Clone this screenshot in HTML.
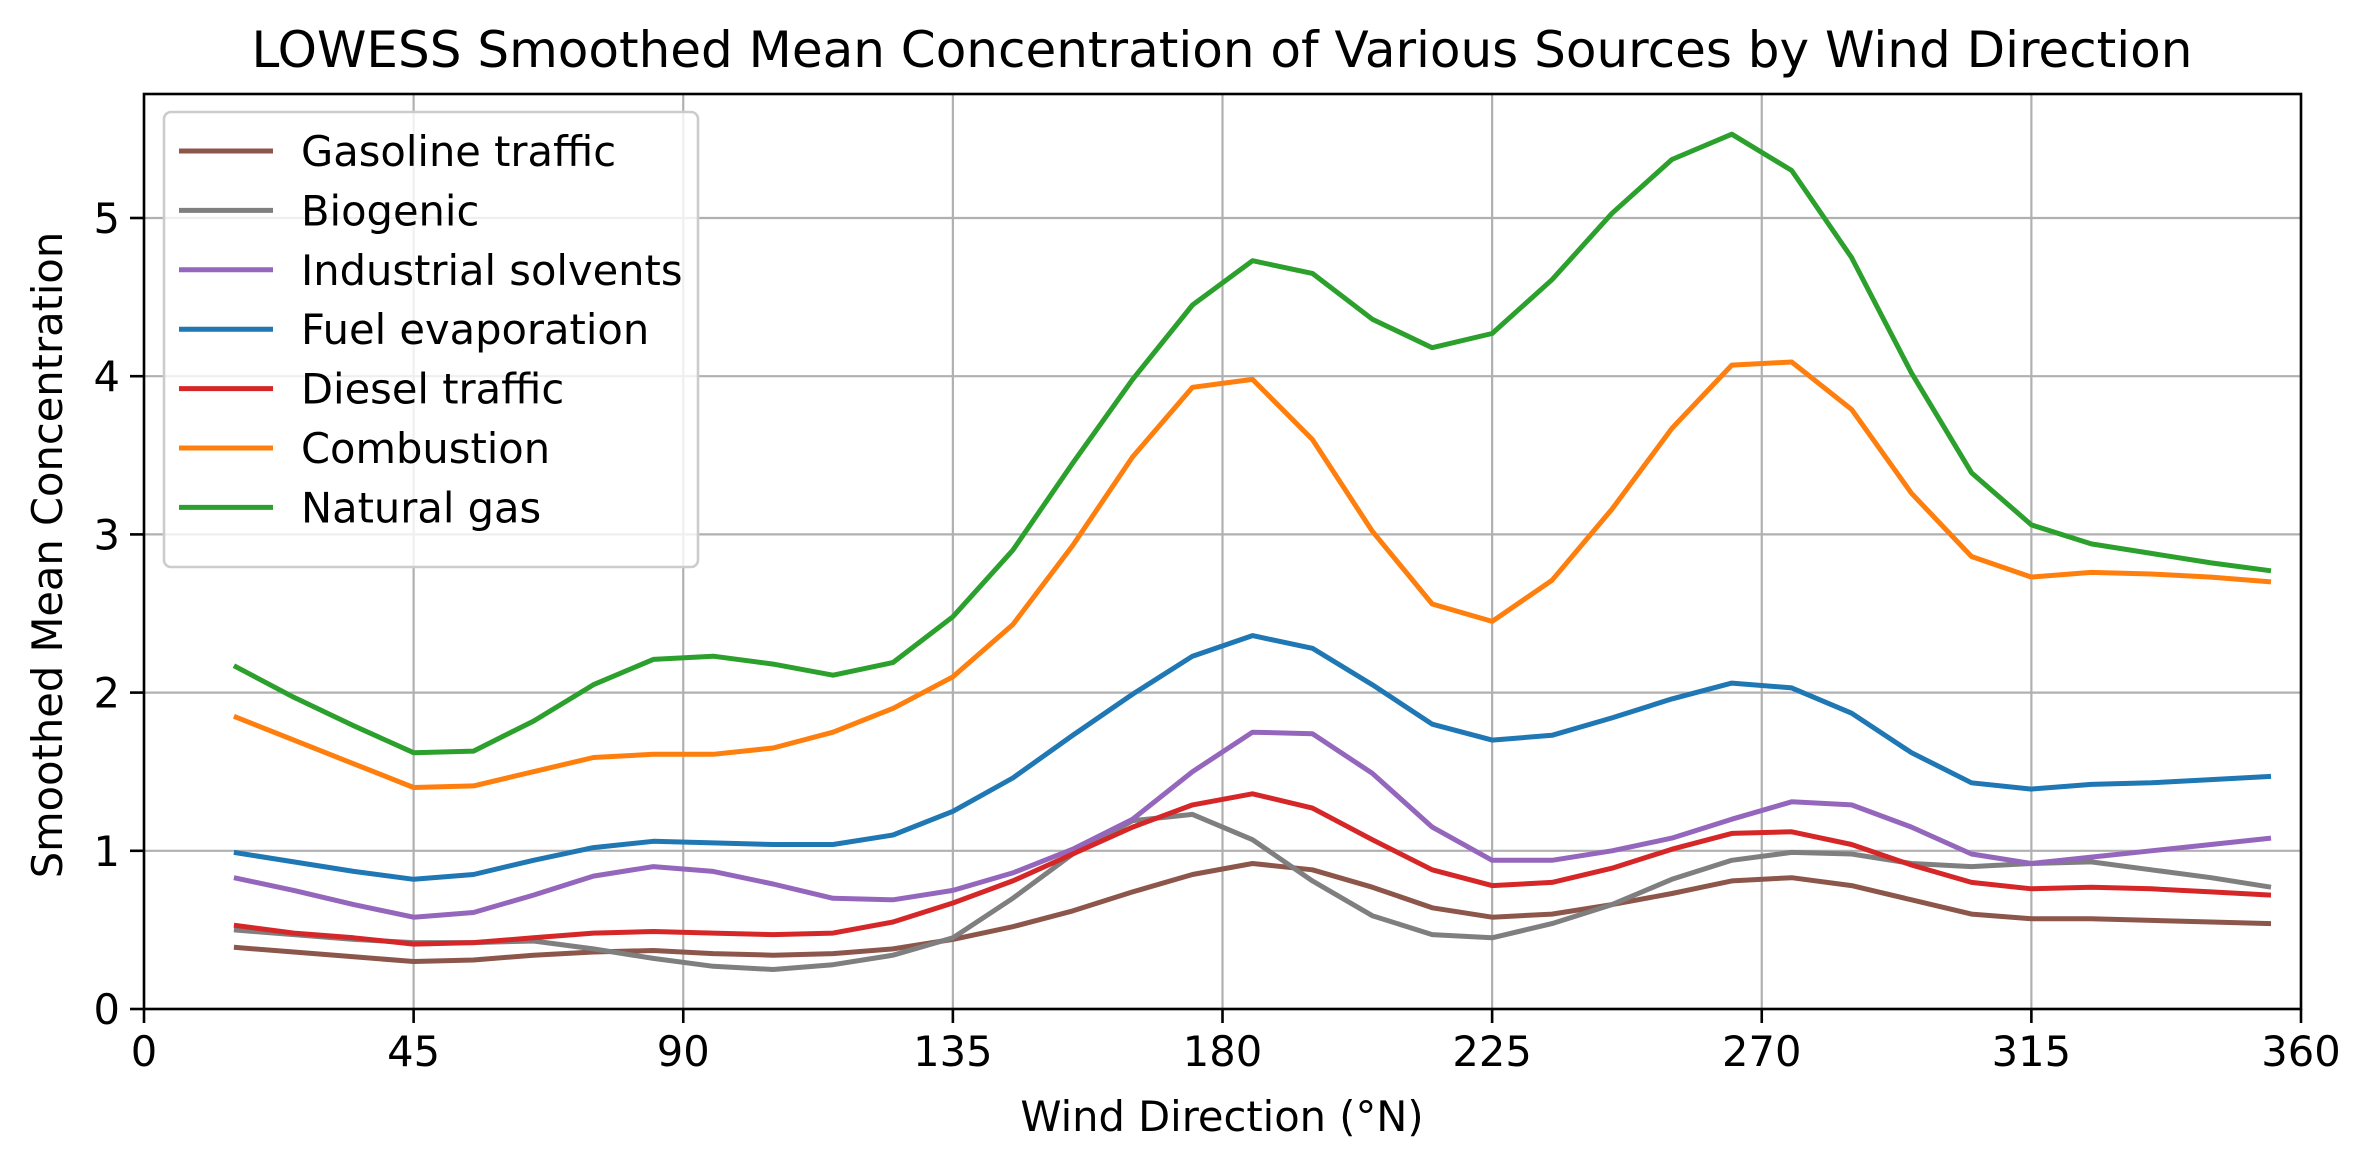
<!DOCTYPE html>
<html><head><meta charset="utf-8"><style>
html,body{margin:0;padding:0;background:#fff;}
svg{display:block;font-family:"DejaVu Sans","Liberation Sans",sans-serif;}
</style></head><body>
<svg id="chart" width="2370" height="1170" viewBox="0 0 2370 1170" xmlns="http://www.w3.org/2000/svg">
<rect width="2370" height="1170" fill="#fff"/>
<g id="grid"></g>
<g id="series"></g>
<rect x="144" y="94" width="2157" height="915" fill="none" stroke="#000" stroke-width="2.6"/>
<g id="ticks"></g>
<text x="1222" y="67" font-size="50" text-anchor="middle">LOWESS Smoothed Mean Concentration of Various Sources by Wind Direction</text>
<text x="1222" y="1131" font-size="41.6" text-anchor="middle">Wind Direction (°N)</text>
<text x="62" y="555" font-size="41.6" text-anchor="middle" transform="rotate(-90 62 555)">Smoothed Mean Concentration</text>
<g id="legend"></g>
</svg>
<script>
const xs = [15,25,35,45,55,65,75,85,95,105,115,125,135,145,155,165,175,185,195,205,215,225,235,245,255,265,275,285,295,305,315,325,335,345,355];
const gasoline = [0.39,0.36,0.33,0.30,0.31,0.34,0.36,0.37,0.35,0.34,0.35,0.38,0.44,0.52,0.62,0.74,0.85,0.92,0.88,0.77,0.64,0.58,0.60,0.66,0.73,0.81,0.83,0.78,0.69,0.60,0.57,0.57,0.56,0.55,0.54];
const biogenic = [0.50,0.47,0.44,0.42,0.42,0.43,0.38,0.32,0.27,0.25,0.28,0.34,0.45,0.70,0.98,1.19,1.23,1.07,0.81,0.59,0.47,0.45,0.54,0.66,0.82,0.94,0.99,0.98,0.92,0.90,0.92,0.93,0.88,0.83,0.77];
const industrial = [0.83,0.75,0.66,0.58,0.61,0.72,0.84,0.90,0.87,0.79,0.70,0.69,0.75,0.86,1.01,1.20,1.50,1.75,1.74,1.49,1.15,0.94,0.94,1.00,1.08,1.20,1.31,1.29,1.15,0.98,0.92,0.96,1.00,1.04,1.08];
const fuelEvap = [0.99,0.93,0.87,0.82,0.85,0.94,1.02,1.06,1.05,1.04,1.04,1.10,1.25,1.46,1.73,1.99,2.23,2.36,2.28,2.05,1.80,1.70,1.73,1.84,1.96,2.06,2.03,1.87,1.62,1.43,1.39,1.42,1.43,1.45,1.47];
const diesel = [0.53,0.48,0.45,0.41,0.42,0.45,0.48,0.49,0.48,0.47,0.48,0.55,0.67,0.81,0.98,1.15,1.29,1.36,1.27,1.07,0.88,0.78,0.80,0.89,1.01,1.11,1.12,1.04,0.91,0.80,0.76,0.77,0.76,0.74,0.72];
const combustion = [1.85,1.70,1.55,1.40,1.41,1.50,1.59,1.61,1.61,1.65,1.75,1.90,2.10,2.43,2.93,3.49,3.93,3.98,3.60,3.02,2.56,2.45,2.71,3.16,3.67,4.07,4.09,3.79,3.26,2.86,2.73,2.76,2.75,2.73,2.70];
const naturalGas = [2.17,1.97,1.79,1.62,1.63,1.82,2.05,2.21,2.23,2.18,2.11,2.19,2.48,2.90,3.45,3.98,4.45,4.73,4.65,4.36,4.18,4.27,4.61,5.03,5.37,5.53,5.30,4.75,4.02,3.39,3.06,2.94,2.88,2.82,2.77];
const seriesNames = ["Gasoline traffic","Biogenic","Industrial solvents","Fuel evaporation","Diesel traffic","Combustion","Natural gas"];
const seriesData = [gasoline,biogenic,industrial,fuelEvap,diesel,combustion,naturalGas];
const colors = ["#8c564b","#7f7f7f","#9467bd","#1f77b4","#d62728","#ff7f0e","#2ca02c"];
const xTicks = [0,45,90,135,180,225,270,315,360];
const yTicks = [0,1,2,3,4,5];

const NS="http://www.w3.org/2000/svg";
const X0=144,X1=2301,Y0=1009,YPU=158.2;
const xs_ = v => X0+(v/360)*(X1-X0);
const ys_ = v => Y0-v*YPU;
function mk(tag,attrs,parent){const e=document.createElementNS(NS,tag);for(const k in attrs)e.setAttribute(k,attrs[k]);parent.appendChild(e);return e;}
const grid=document.getElementById('grid'),ticks=document.getElementById('ticks'),ser=document.getElementById('series'),leg=document.getElementById('legend');
xTicks.forEach(t=>{const x=xs_(t);
 const g=mk('line',{x1:x,x2:x,y1:94,y2:1009,stroke:'#b0b0b0','stroke-width':2.2},grid);
 
 
 const tk=mk('line',{x1:x,x2:x,y1:1009,y2:1023,stroke:'#000','stroke-width':2.6},ticks);
 
 
 const tl=mk('text',{x:x,y:1066,'font-size':41.6,'text-anchor':'middle'},ticks);tl.textContent=t;
 
 
});
yTicks.forEach(t=>{const y=ys_(t);
 const g=mk('line',{x1:144,x2:2301,y1:y,y2:y,stroke:'#b0b0b0','stroke-width':2.2},grid);
 
 
 const tk=mk('line',{x1:130,x2:144,y1:y,y2:y,stroke:'#000','stroke-width':2.6},ticks);
 
 
 const tl=mk('text',{x:120,y:y+15,'font-size':41.6,'text-anchor':'end'},ticks);tl.textContent=t;
 
 
});
seriesData.forEach((d,i)=>{
 const pts=d.map((v,j)=>xs_(xs[j]).toFixed(1)+','+ys_(v).toFixed(1)).join(' ');
 const p=mk('polyline',{points:pts,fill:'none',stroke:colors[i],'stroke-width':5,'stroke-linejoin':'round'},ser);
 
 
});
const box=mk('rect',{x:164,y:112,width:534,height:455,rx:7,fill:'#fff','fill-opacity':0.8,stroke:'#cccccc','stroke-width':2.6},leg);


seriesNames.forEach((n,i)=>{const y=151+i*59.4;
 const l=mk('line',{x1:179,x2:273,y1:y,y2:y,stroke:colors[i],'stroke-width':5},leg);
 
 
 const t=mk('text',{x:301,y:y+15,'font-size':41.6},leg);t.textContent=n;
 
 
});
</script>
</body></html>
